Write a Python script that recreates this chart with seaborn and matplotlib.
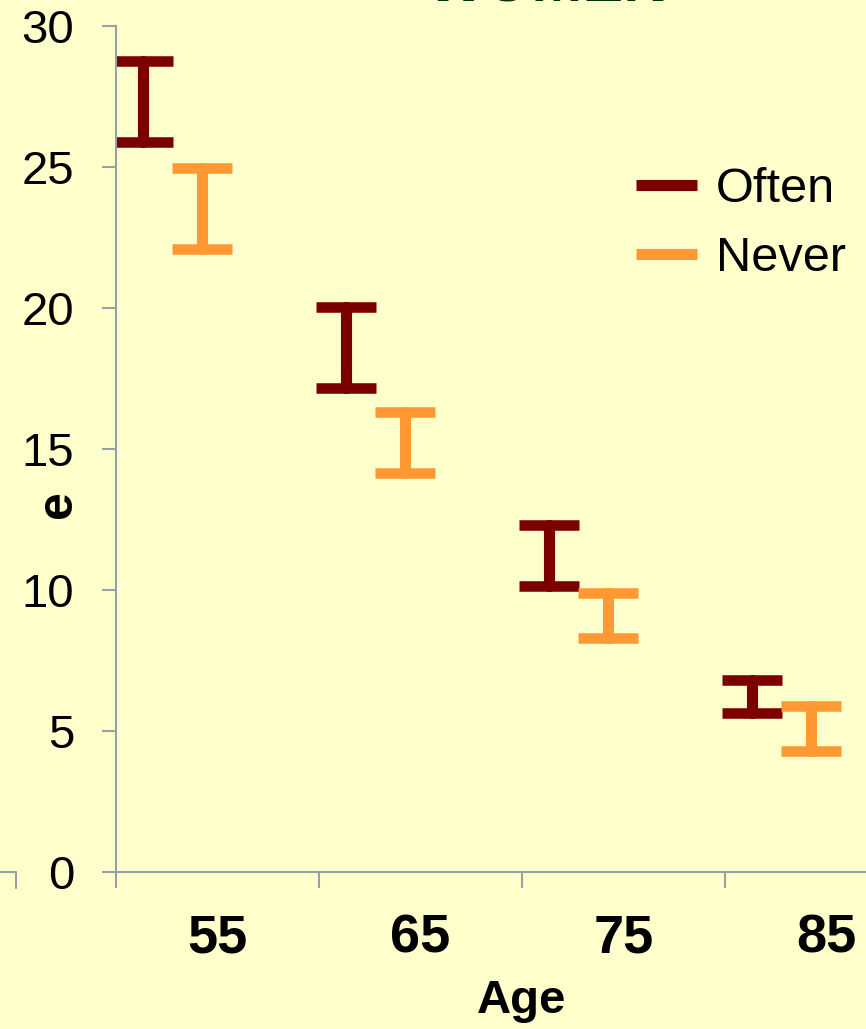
import pandas as pd
import matplotlib.pyplot as plt
from matplotlib.lines import Line2D
import seaborn as sns

# Interval ends (low / high)
AGES = ["55", "65", "75", "85"]
GROUPS = ["Often", "Never"]
OFTEN_LOW = [25.9, 17.15, 10.15, 5.65]
OFTEN_HIGH = [28.75, 20.05, 12.3, 6.8]
NEVER_LOW = [22.1, 14.15, 8.3, 4.3]
NEVER_HIGH = [24.95, 16.3, 9.9, 5.9]

# Styling
COLORS = {"Often": "#7B0000", "Never": "#FF9933"}
OFFSETS = {"Often": -0.365, "Never": -0.075}
BG = "#FFFFCC"
AXIS_GREY = "#94A2A6"
W, H = 866, 1029

sns.set_style("ticks")
plt.rcParams["font.family"] = ["Liberation Sans", "DejaVu Sans"]
plt.rcParams["text.color"] = "black"
plt.rcParams["xtick.labelcolor"] = "black"
plt.rcParams["ytick.labelcolor"] = "black"
plt.rcParams["axes.labelcolor"] = "black"

# long-form table: two rows (low, high) per interval
rows = []
for grp, lows, highs in [("Often", OFTEN_LOW, OFTEN_HIGH), ("Never", NEVER_LOW, NEVER_HIGH)]:
    for i, (lo, hi) in enumerate(zip(lows, highs)):
        rows.append({"pos": i + OFFSETS[grp], "e": lo, "group": grp})
        rows.append({"pos": i + OFFSETS[grp], "e": hi, "group": grp})
df = pd.DataFrame(rows)

fig = plt.figure(figsize=(W / 100, H / 100), dpi=100, facecolor=BG)
# axes runs past the right edge of the picture, like the original crop
ax = fig.add_axes([116 / W, 156.7 / H, 812 / W, 846.3 / H])
ax.set_facecolor(BG)

sns.lineplot(data=df, x="pos", y="e", hue="group", hue_order=GROUPS, palette=COLORS,
             estimator="mean", errorbar=("pi", 100), err_style="bars",
             err_kws={"capsize": 21.5, "capthick": 7.6, "elinewidth": 8},
             linewidth=0, legend=False, ax=ax)

ax.set_xlim(-0.5, 3.5)
ax.set_ylim(0, 30)
ax.set_yticks(range(0, 31, 5))
ax.set_xticks([-0.5, 0.5, 1.5, 2.5, 3.5])
ax.set_xticklabels([])
ax.set_xticks(range(len(AGES)), minor=True)
ax.set_xticklabels(AGES, minor=True, fontsize=39, fontweight="bold")

for side in ["top", "right"]:
    ax.spines[side].set_visible(False)
for side in ["left", "bottom"]:
    ax.spines[side].set_color(AXIS_GREY)
    ax.spines[side].set_linewidth(1.5)

ax.tick_params(axis="y", direction="out", length=10, width=1.5, color=AXIS_GREY,
               pad=20, labelsize=34)
ax.tick_params(axis="x", which="major", direction="out", length=11.5, width=1.5,
               color=AXIS_GREY)
ax.tick_params(axis="x", which="minor", length=0, pad=30)

ax.set_xlabel("Age", fontsize=34, fontweight="bold", labelpad=11)
ax.set_ylabel("")
fig.text(58 / W, 1 - 504 / H, "e", rotation=90, ha="center", va="center",
         fontsize=36, fontweight="bold")

# title, mostly cut off at the top
fig.text(548 / W, 1 - 1 / H, "WOMEN", ha="center", va="baseline",
         fontsize=44, fontweight="bold", color="#003300")

handles = [Line2D([], [], color=COLORS[g], lw=8, solid_capstyle="butt") for g in GROUPS]
fig.legend(handles, GROUPS, loc="upper left", bbox_to_anchor=(636 / W, 1 - 167 / H),
           frameon=False, fontsize=35, handlelength=1.25, handletextpad=0.4,
           borderpad=0, borderaxespad=0, labelspacing=0.5)

# leftover axis stub at the far left edge
fig.add_artist(Line2D([0, 16 / W, 16 / W], [1 - 872 / H, 1 - 872 / H, 1 - 888 / H],
                      transform=fig.transFigure, color=AXIS_GREY, lw=1.5))

fig.savefig("out.png", dpi=100, facecolor=BG)
